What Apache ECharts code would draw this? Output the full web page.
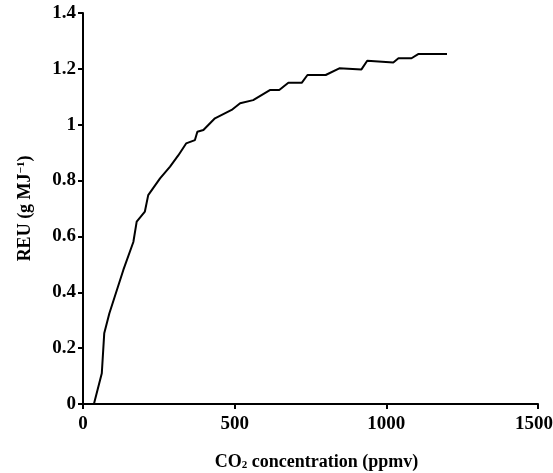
<!DOCTYPE html>
<html><head><meta charset="utf-8">
<script src="https://cdn.jsdelivr.net/npm/echarts@6/dist/echarts.min.js"></script>
<style>html,body{margin:0;padding:0;background:#fff}#c{width:553px;height:473px}</style>
</head><body><div id="c"></div>
<script>
const co2 = [36, 62, 70, 87, 133, 166, 177, 204, 215, 254, 287, 314, 340, 369, 377, 397, 435, 490, 518, 561, 616, 647, 677, 721, 740, 800, 845, 918, 937, 1023, 1040, 1083, 1105, 1200];
const reu = [0, 0.11, 0.253, 0.325, 0.48, 0.58, 0.653, 0.689, 0.748, 0.808, 0.85, 0.89, 0.933, 0.945, 0.975, 0.981, 1.023, 1.053, 1.077, 1.088, 1.124, 1.124, 1.15, 1.15, 1.178, 1.178, 1.202, 1.198, 1.229, 1.223, 1.238, 1.238, 1.253, 1.253];
const xTicks = [0, 500, 1000, 1500];
const yTicks = [0, 0.2, 0.4, 0.6, 0.8, 1, 1.2, 1.4];

const font = 'Liberation Serif';
const chart = echarts.init(document.getElementById('c'));
const lbl = {color: '#000', fontFamily: font, fontWeight: 'bold', fontSize: 19};
const axisCommon = {
  axisLine: {show: true, lineStyle: {color: '#000', width: 2}},
  axisTick: {show: true, inside: false, length: 5, lineStyle: {color: '#000', width: 2}},
  splitLine: {show: false},
  axisLabel: lbl
};
chart.setOption({
  animation: false,
  grid: {left: 83, right: 15, top: 13, bottom: 69, containLabel: false, outerBoundsMode: 'none'},
  xAxis: Object.assign({}, axisCommon, {
    type: 'value', min: xTicks[0], max: xTicks[xTicks.length - 1], interval: 500,
    name: '{t|CO}{s|2}{t| concentration (ppmv)}', nameLocation: 'middle', nameGap: 49,
    nameTextStyle: {padding: [0, 0, 0, 12], rich: {
      t: {fontFamily: font, fontWeight: 'bold', fontSize: 18, color: '#000'},
      s: {fontFamily: font, fontWeight: 'bold', fontSize: 11, color: '#000', verticalAlign: 'bottom', padding: [7, 0, 0, 0]}
    }},
    axisLabel: Object.assign({}, lbl, {margin: 11,
      formatter: v => v === xTicks[xTicks.length - 1] ? '{r|' + v + '}' : String(v),
      rich: {r: Object.assign({}, lbl, {padding: [0, 8, 0, 0]})}
    })
  }),
  yAxis: Object.assign({}, axisCommon, {
    type: 'value', min: yTicks[0], max: yTicks[yTicks.length - 1], interval: 0.2,
    name: '{t|REU (g MJ}{s|−1}{t|)}', nameLocation: 'middle', nameGap: 49,
    nameTextStyle: {rich: {
      t: {fontFamily: font, fontWeight: 'bold', fontSize: 18, color: '#000'},
      s: {fontFamily: font, fontWeight: 'bold', fontSize: 11, color: '#000', verticalAlign: 'top', padding: [0, 0, 7, 0]}
    }},
    axisLabel: Object.assign({}, lbl, {margin: 7, formatter: v => String(Math.round(v * 10) / 10)})
  }),
  series: [{
    type: 'line', data: co2.map((x, i) => [x, reu[i]]), showSymbol: false, symbol: 'none',
    lineStyle: {color: '#000', width: 2}, smooth: false
  }]
});
</script></body></html>
